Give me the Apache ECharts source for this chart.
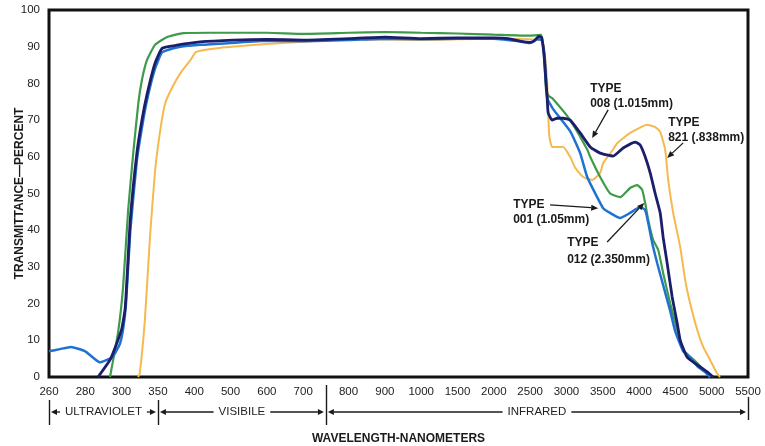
<!DOCTYPE html>
<html>
<head>
<meta charset="utf-8">
<script src="https://cdn.jsdelivr.net/npm/echarts@6/dist/echarts.min.js"></script>
<style>
html,body{margin:0;padding:0;background:#fff}
#ChartMain{width:765px;height:446px}
</style>
</head>
<body>
<div id="ChartMain"></div>
<script>
// x tick labels (non-linear wavelength scale, nm)
var tickWaves = [260,280,300,350,400,500,600,700,800,900,1000,1500,2000,2500,3000,3500,4000,4500,5000,5500];
var yTicks = [0,100,10];

// TYPE 008 (1.015mm) - navy
var wl008 = [287,294,300,305,312,321,328,335,346,356,376,416,507,600,700,800,900,1000,1500,2000,2200,2400,2500,2550,2620,2660,2690,2707,2735,2748,2803,2872,2955,3051,3189,3327,3464,3643,3781,3946,4015,4084,4153,4222,4291,4332,4387,4456,4525,4567,4663,4801,4938,5021];
var t008  = [0,5,13,19,43,61,70,77,85.5,89.6,90.4,91.3,91.8,92,91.8,92.2,92.6,92.2,92.4,92.4,92.2,91.3,91.2,91.5,92.8,92.5,88,83.6,76,72,70,70.5,70.5,70,66.5,62.7,61,60.2,62.4,64,63.2,60,55.6,50,44.7,38,31,21.8,14.7,10,5.4,3.3,1.4,0];

// TYPE 001 (1.05mm) - blue
var wl001 = [260,266,272,280,288,295,299,302,306,312,321,328,335,346,356,376,416,500,600,700,800,900,1000,1500,2000,2400,2500,2600,2660,2700,2735,2817,3051,3189,3286,3423,3506,3602,3740,3877,4015,4084,4126,4181,4250,4332,4429,4497,4608,4700,4801,4900,4979];
var t001  = [7,7.6,8.2,7,4,5.5,9,13,20,40,59,68,75.5,84,88.5,89.8,90.5,91,91.6,91.5,91.8,92.2,92,92.2,92.2,91.4,91,92,91.8,87,76,73,67,61,54.5,49,46,44.7,43.3,44.7,46.3,45.5,42,36.5,31,25,18,12.5,7,5.4,3,1.5,0];

// TYPE 012 (2.350mm) - green
var wl012 = [293.6,298,302,309,316,323,328,335,346,362,385,444,600,700,800,900,1000,1500,2000,2500,2650,2690,2720,2760,2803,3051,3286,3327,3464,3602,3740,3877,3974,4043,4084,4126,4195,4264,4332,4429,4525,4608,4801,4979];
var t012  = [0,12,24.5,45.5,61,74.6,81,86.4,90.5,92.6,93.7,93.8,93.8,93.5,93.8,94,93.8,93.6,93.3,93,93.2,88,78,76.5,76,70,62,60,54.5,50,49,51.5,52.3,51,47.4,42.8,37.3,34.6,28.3,20,12.8,7.4,3.8,0];

// TYPE 821 (.838mm) - orange
var wl821 = [322.6,325,332,339,346,353,360,370,381,395,405,463,553,644,766,900,1000,1500,2000,2500,2650,2690,2735,2762,2803,2955,3051,3120,3230,3354,3464,3506,3643,3698,3877,4112,4222,4291,4360,4401,4470,4567,4635,4704,4801,4883,4979,5073,5114];
var t821  = [0,1,15.5,38,56,67,74.6,79,82.8,86.4,88.6,89.6,90.4,91,91.8,92,91.8,92,92.2,92,91.8,90,80,66,62.7,62.7,60,57,54.5,53.7,55.6,58.3,62,63.7,66.5,68.7,68.1,66.8,61.9,53.7,44.7,35.4,26.4,20,12.8,8.2,4.6,1,0];

// 区域标注
var bands = [[260,350,'ULTRAVIOLET'],[350,750,'VISIBILE'],[750,5500,'INFRARED']];

// tick positions on the axis (quarter steps, gap between 700 and 800)
var tickPos = tickWaves.map(function (w, i) { return i < 8 ? i * 4 : 33 + (i - 8) * 4; });

function pos(w) {
    for (var i = 0; i < tickWaves.length - 1; i++) {
        if (w <= tickWaves[i + 1]) {
            return tickPos[i] + (w - tickWaves[i]) / (tickWaves[i + 1] - tickWaves[i]) * (tickPos[i + 1] - tickPos[i]);
        }
    }
    return tickPos[tickPos.length - 1];
}
function pairs(wl, t) {
    return wl.map(function (w, i) { return [pos(w), t[i]]; });
}

var FONT = '"Liberation Sans", Arial, sans-serif';
var chart = echarts.init(document.getElementById('ChartMain'));

function lineSeries(name, wl, t, color, width) {
    return {
        name: name, type: 'line', data: pairs(wl, t), showSymbol: false, smooth: 0.15,
        lineStyle: {color: color, width: width}, itemStyle: {color: color}, z: 2
    };
}

var option = {
    backgroundColor: '#fff',
    animation: false,
    grid: {left: 49, right: 17, top: 10, bottom: 69, containLabel: false, outerBoundsMode: 'none',
        show: true, borderColor: '#111', borderWidth: 3},
    xAxis: {
        type: 'value', min: 0, max: tickPos[tickPos.length - 1], interval: 1,
        axisLine: {show: false}, axisTick: {show: false}, splitLine: {show: false},
        axisLabel: {
            margin: 9, fontSize: 11.5, color: '#222', fontFamily: FONT,
            showMinLabel: true, showMaxLabel: true,
            formatter: function (v) {
                var k = tickPos.indexOf(Math.round(v));
                return k >= 0 ? String(tickWaves[k]) : '';
            }
        },
        name: 'WAVELENGTH-NANOMETERS', nameLocation: 'middle', nameGap: 56, nameMoveOverlap: false,
        nameTextStyle: {fontSize: 12, fontWeight: 'bold', color: '#1a1a1a', fontFamily: FONT}
    },
    yAxis: {
        type: 'value', min: yTicks[0], max: yTicks[1], interval: yTicks[2],
        axisLine: {show: false}, axisTick: {show: false}, splitLine: {show: false},
        axisLabel: {margin: 9, fontSize: 11.5, color: '#222', fontFamily: FONT},
        name: 'TRANSMITTANCE\u2014PERCENT', nameLocation: 'middle', nameGap: 23, nameRotate: 90,
        nameMoveOverlap: false,
        nameTextStyle: {fontSize: 12, fontWeight: 'bold', color: '#1a1a1a', fontFamily: FONT}
    },
    series: [
        lineSeries('TYPE 821 (.838mm)', wl821, t821, '#f5b94e', 2),
        lineSeries('TYPE 012 (2.350mm)', wl012, t012, '#3f9a4a', 2.2),
        lineSeries('TYPE 001 (1.05mm)', wl001, t001, '#1f72d2', 2.5),
        lineSeries('TYPE 008 (1.015mm)', wl008, t008, '#1b1f6b', 2.8)
    ]
};
chart.setOption(option);

// annotations
function px(w, v) { return chart.convertToPixel({gridIndex: 0}, [pos(w), v]); }
function arrow(p1, p2, head) {
    var a = Math.atan2(p2[1] - p1[1], p2[0] - p1[0]);
    var L = head || 7, W = 3;
    var c = Math.cos(a), s = Math.sin(a);
    var b = [p2[0] - L * c, p2[1] - L * s];
    return [
        {type: 'line', shape: {x1: p1[0], y1: p1[1], x2: b[0], y2: b[1]}, style: {stroke: '#1a1a1a', lineWidth: 1.3}, z: 10},
        {type: 'polygon', shape: {points: [p2, [b[0] - W * s, b[1] + W * c], [b[0] + W * s, b[1] - W * c]]}, style: {fill: '#1a1a1a'}, z: 10}
    ];
}
function label(w, v, txt, font) {
    var p = px(w, v);
    return {type: 'text', x: p[0], y: p[1], z: 10,
        style: {text: txt, font: font || ('bold 12px ' + FONT), fill: '#1a1a1a', align: 'left', verticalAlign: 'middle'}};
}

var notes = [
    // [text wl, TYPE v, second line v, second line, arrow tail, arrow tip]
    [3327, 78.5, 74.4, '008 (1.015mm)', [3574, 72.8], [3354, 65.1]],
    [4401, 69.2, 65.1, '821 (.838mm)', [4607, 63.8], [4387, 59.7]],
    [2266, 46.9, 43.0, '001 (1.05mm)', [2775, 46.9], [3437, 46.0]],
    [3010, 36.5, 31.9, '012 (2.350mm)', [3561, 36.8], [4070, 47.4]]
];
var g = [];
notes.forEach(function (n) {
    g.push(label(n[0], n[1], 'TYPE'));
    g.push(label(n[0], n[2], n[3]));
    g = g.concat(arrow(px(n[4][0], n[4][1]), px(n[5][0], n[5][1])));
});

// bands below the axis
var ctx = document.createElement('canvas').getContext('2d');
var bandFont = '11.5px ' + FONT;
ctx.font = bandFont;
var yb = 412;
var divs = [[260, 400, 425], [350, 400, 425], [750, 385, 425], [5500, 397, 420]];
divs.forEach(function (d) {
    var x = Math.round(px(d[0], 0)[0]) + 0.5;
    g.push({type: 'line', shape: {x1: x, y1: d[1], x2: x, y2: d[2]}, style: {stroke: '#1a1a1a', lineWidth: 1.4}});
});
bands.forEach(function (b) {
    var xa = px(b[0], 0)[0] + 2, xb = px(b[1], 0)[0] - 2;
    var mid = (xa + xb) / 2;
    var tw = ctx.measureText(b[2]).width;
    g.push({type: 'text', x: mid, y: yb, style: {text: b[2], font: bandFont, fill: '#222', align: 'center', verticalAlign: 'middle'}});
    g = g.concat(arrow([mid - tw / 2 - 5, yb], [xa, yb], 6));
    g = g.concat(arrow([mid + tw / 2 + 5, yb], [xb, yb], 6));
});
chart.setOption({graphic: g});
</script>
</body>
</html>
